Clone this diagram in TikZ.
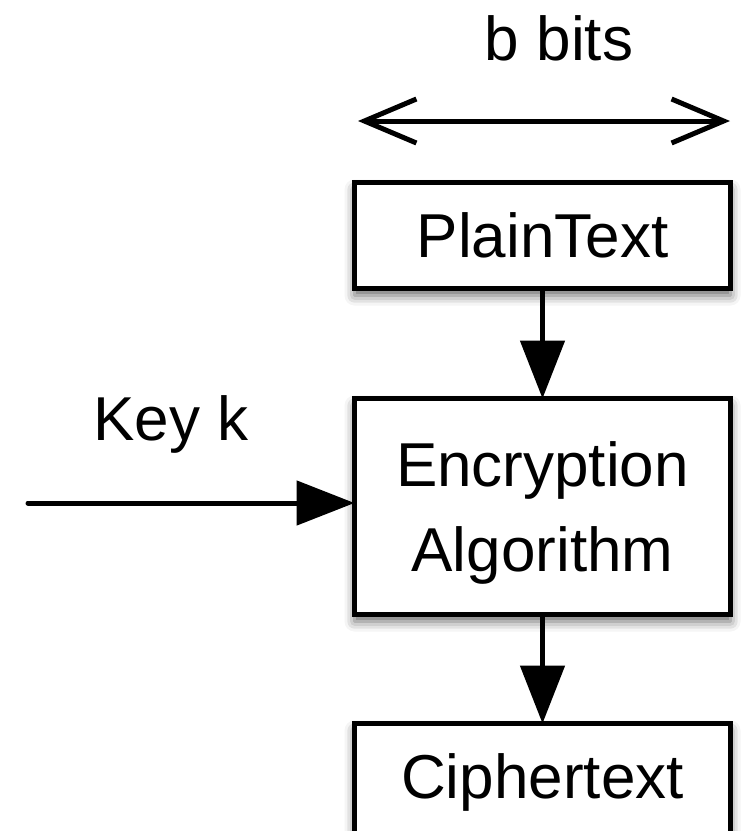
\documentclass[tikz,border=0pt]{standalone}
\usepackage{fontspec}
\setmainfont{Liberation Sans}
\usetikzlibrary{arrows.meta,shadows.blur}
\tikzset{
  box/.style={draw=black, line width=5pt, fill=white, inner sep=0pt, outer sep=0pt,
    minimum width=376pt,
    blur shadow={shadow xshift=0pt, shadow yshift=-7pt, shadow blur radius=10pt, shadow opacity=60}},
  lbl/.style={font=\fontsize{62}{85}\selectfont, inner sep=0pt},
  flow/.style={line width=5pt, -{Triangle[length=58pt, width=44pt]}},
  span/.style={line width=5pt, {Straight Barb[length=52pt, width=44pt]}-{Straight Barb[length=52pt, width=44pt]}}
}
\begin{document}
\begin{tikzpicture}[x=1pt, y=-1pt]
  \useasboundingbox (0,0) rectangle (752,831);
  \clip (0,0) rectangle (752,831);

  % block width indicator
  \node[lbl, anchor=base] (bbits) at (559,60) {b bits};
  \coordinate (wl) at (358,121);
  \coordinate (wr) at (730,121);
  \draw[span] (wl) -- (wr);

  % the three blocks
  \node[box, lbl, minimum height=106pt, text height=44pt, text depth=0pt]
    (plain) at (542.5,235.5) {PlainText};
  \node[box, lbl, minimum height=216pt, align=center, text height=129pt, text depth=0pt]
    (enc) at (542.5,506.5) {Encryption\\Algorithm};
  \node[box, minimum height=130pt] (cipher) at (542.5,788.5) {};
  \node[lbl, anchor=base] (ciphertxt) at (542.5,798) {Ciphertext};

  % key input
  \node[lbl, anchor=base] (key) at (171,440) {Key k};
  \coordinate (kin) at (28,503);

  % connectors
  \draw[flow] (plain.south) -- (enc.north);
  \draw[flow] (enc.south) -- (cipher.north);
  \draw[flow, line cap=round] (kin) -- (kin -| enc.west);
\end{tikzpicture}
\end{document}
